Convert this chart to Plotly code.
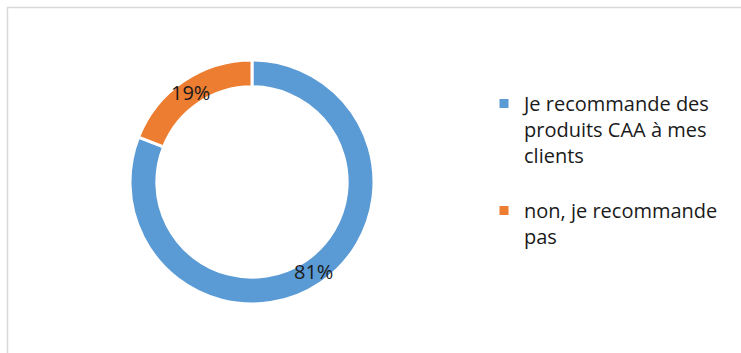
import math
import plotly.graph_objects as go

# Survey answers and their shares (%)
labels = [
    "Je recommande des<br>produits CAA à mes<br>clients<br>",
    "non, je recommande<br>pas",
]
values = [81, 19]
colors = ["#5B9BD5", "#ED7D31"]

W, H = 741, 353
CX, CY, R_OUT, HOLE = 252, 182, 122, 0.78

fig = go.Figure(
    go.Pie(
        labels=labels,
        values=values,
        hole=HOLE,
        sort=False,
        direction="clockwise",
        rotation=0,
        marker=dict(colors=colors, line=dict(color="white", width=3)),
        textinfo="none",
        domain=dict(x=[(CX - R_OUT) / W, (CX + R_OUT) / W],
                    y=[(H - CY - R_OUT) / H, (H - CY + R_OUT) / H]),
        hoverinfo="label+percent",
    )
)

# Percentage labels centred on the ring at each slice's mid-angle
total = sum(values)
r_mid = R_OUT * (1 + HOLE) / 2
cum = 0
for v in values:
    mid = (cum + v / 2) / total * 2 * math.pi  # clockwise from 12 o'clock
    cum += v
    px = CX + r_mid * math.sin(mid)
    py = CY - r_mid * math.cos(mid)
    fig.add_annotation(
        x=px / W, y=1 - py / H, xref="paper", yref="paper",
        text=f"{round(100 * v / total)}%", showarrow=False,
        xanchor="center", yanchor="middle",
        font=dict(family="Open Sans", size=20, color="#1a1a1a"),
    )

# Chart-area frame
fig.add_shape(
    type="rect", xref="paper", yref="paper",
    x0=7.5 / W, x1=1.02, y0=-0.02, y1=1 - 7.5 / H,
    line=dict(color="#d9d9d9", width=1.5), fillcolor="rgba(0,0,0,0)",
    layer="below",
)

fig.update_layout(
    width=W, height=H,
    margin=dict(l=0, r=0, t=0, b=0),
    paper_bgcolor="white",
    plot_bgcolor="white",
    showlegend=True,
    legend=dict(
        x=484 / W, y=1 - 84 / H, xanchor="left", yanchor="top",
        valign="top",
        font=dict(family="Open Sans", size=20, color="#1a1a1a"),
        bgcolor="rgba(0,0,0,0)",
        itemclick=False,
    ),
)

fig.write_html("out.html")
